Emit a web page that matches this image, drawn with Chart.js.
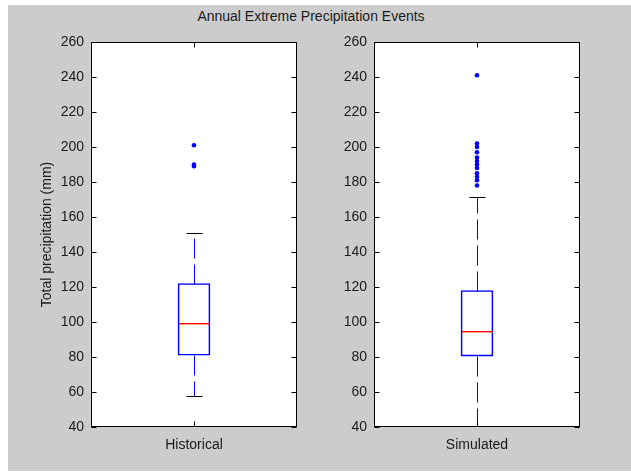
<!DOCTYPE html>
<html>
<head>
<meta charset="utf-8">
<script src="https://cdn.jsdelivr.net/npm/chart.js@4.4.1/dist/chart.umd.min.js"></script>
<style>
  html, body { margin: 0; padding: 0; background: #fff; }
  #fig { position: relative; width: 631px; height: 474px; overflow: hidden; }
  #bg { position: absolute; left: 8px; top: 5px; width: 623px; height: 466px; background: #cccccc; }
  #fig canvas { position: absolute; left: 0; top: 0; }
  #title {
    position: absolute; left: 0; top: 8px; width: 622px; text-align: center;
    font: 14px "Liberation Sans", Arial, sans-serif; color: #1a1a1a;
  }
</style>
</head>
<body>
<div id="fig">
  <div id="bg"></div>
  <div id="title">Annual Extreme Precipitation Events</div>
  <canvas id="histChart" width="631" height="474"></canvas>
  <canvas id="simChart" width="631" height="474"></canvas>
</div>
<script>
// box plot summary
const categories = ['Historical', 'Simulated'];
const whiskerLow = [58, 40.5];
const quartile1 = [81, 80.5];
const medians = [99.5, 95];
const quartile3 = [122, 118];
const whiskerHigh = [151, 171.5];
const historicalOutliers = [201, 190, 189];
const simulatedOutliers = [241, 202, 200, 197, 194, 192, 190, 188, 185, 183, 181, 178];
const yTickValues = [40, 60, 80, 100, 120, 140, 160, 180, 200, 220, 240, 260];

const FONT = { family: '"Liberation Sans", Arial, sans-serif', size: 14 };
const TEXT = '#1a1a1a';
const BLUE = '#0000ff';

// white axes background
const axesBackground = {
  id: 'axesBackground',
  beforeDraw(chart) {
    const { ctx, chartArea: a } = chart;
    ctx.save();
    ctx.fillStyle = '#fff';
    ctx.fillRect(a.left, a.top, a.right - a.left, a.bottom - a.top);
    ctx.restore();
  }
};

// whiskers, caps, median, frame and inward ticks
const boxExtras = {
  id: 'boxExtras',
  afterDatasetsDraw(chart, args, opts) {
    const i = opts.index;
    const { ctx, chartArea: a, scales: { x, y } } = chart;
    const cx = Math.round(x.getPixelForValue(0)) + 0.5;
    const py = v => Math.round(y.getPixelForValue(v)) + 0.5;
    ctx.save();
    ctx.lineWidth = 1;

    // dashed whiskers
    ctx.strokeStyle = BLUE;
    ctx.setLineDash([20, 6]);
    ctx.beginPath();
    ctx.moveTo(cx, py(quartile3[i]));
    ctx.lineTo(cx, py(whiskerHigh[i]));
    ctx.moveTo(cx, py(quartile1[i]));
    ctx.lineTo(cx, py(whiskerLow[i]));
    ctx.stroke();
    ctx.setLineDash([]);

    // caps
    ctx.strokeStyle = '#000';
    ctx.beginPath();
    [whiskerHigh[i], whiskerLow[i]].forEach(v => {
      ctx.moveTo(cx - 8, py(v));
      ctx.lineTo(cx + 8, py(v));
    });
    ctx.stroke();

    // median
    const bw = 32;
    ctx.fillStyle = '#ff0000';
    ctx.fillRect(cx - bw / 2 + 0.5, Math.round(y.getPixelForValue(medians[i])), bw - 1, 1.4);

    // frame
    const l = Math.round(a.left) + 0.5, r = Math.round(a.right) - 0.5;
    const t = Math.round(a.top) + 0.5, b = Math.round(a.bottom) - 0.5;
    ctx.strokeStyle = '#000';
    ctx.strokeRect(l, t, r - l, b - t);

    // inward ticks
    ctx.beginPath();
    y.ticks.forEach(tk => {
      const yy = py(tk.value);
      ctx.moveTo(l, yy); ctx.lineTo(l + 5, yy);
      ctx.moveTo(r, yy); ctx.lineTo(r - 5, yy);
    });
    ctx.moveTo(cx, t); ctx.lineTo(cx, t + 5);
    ctx.moveTo(cx, b); ctx.lineTo(cx, b - 5);
    ctx.stroke();
    ctx.restore();
  }
};

function makeBoxChart(canvasId, i, outliers, padLeft, padRight, showYTitle) {
  const label = categories[i];
  return new Chart(document.getElementById(canvasId), {
    type: 'bar',
    data: {
      labels: [label],
      datasets: [
        {
          data: [[quartile1[i], quartile3[i]]],
          backgroundColor: 'rgba(0,0,0,0)',
          borderColor: BLUE,
          borderWidth: 1,
          borderSkipped: false,
          barThickness: 32
        },
        {
          type: 'line',
          showLine: false,
          data: outliers.map(v => ({ x: label, y: v })),
          pointRadius: 2.3,
          pointBackgroundColor: BLUE,
          pointBorderWidth: 0
        }
      ]
    },
    options: {
      responsive: false,
      animation: false,
      devicePixelRatio: 1,
      layout: { padding: { left: padLeft, right: padRight, top: 42, bottom: 0 } },
      plugins: {
        legend: { display: false },
        tooltip: { enabled: false },
        boxExtras: { index: i }
      },
      scales: {
        x: {
          type: 'category',
          offset: true,
          grid: { display: false, drawTicks: false },
          border: { display: false },
          ticks: { font: FONT, color: TEXT, padding: 10 },
          afterFit: s => { s.height = 47; }
        },
        y: {
          min: 40,
          max: 260,
          grid: { display: false, drawTicks: false },
          border: { display: false },
          afterBuildTicks: s => { s.ticks = yTickValues.map(v => ({ value: v })); },
          ticks: { font: FONT, color: TEXT, padding: 7 },
          title: {
            display: showYTitle,
            text: 'Total precipitation (mm)',
            font: FONT,
            color: TEXT,
            padding: { top: 39, bottom: 0 }
          },
          afterFit: s => { s.width = 91; }
        }
      }
    },
    plugins: [axesBackground, boxExtras]
  });
}

makeBoxChart('histChart', 0, historicalOutliers, 0, 334, true);
makeBoxChart('simChart', 1, simulatedOutliers, 283, 51, false);
</script>
</body>
</html>
